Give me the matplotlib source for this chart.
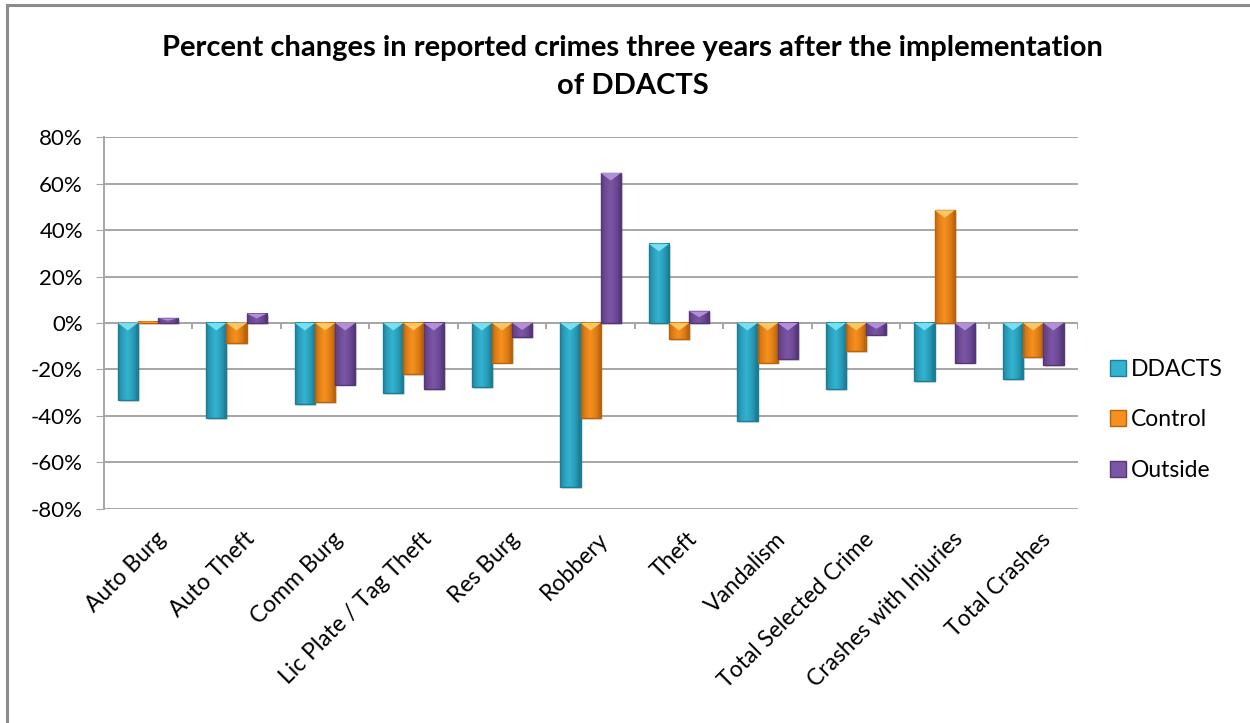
import numpy as np
import matplotlib
matplotlib.use('Agg')
import matplotlib.pyplot as plt
import matplotlib.transforms as mtransforms
from matplotlib.patches import Rectangle, Polygon
from matplotlib.colors import to_rgb
from matplotlib.ticker import FuncFormatter

plt.rcParams['font.family'] = ['Lato', 'DejaVu Sans']

# data (percent change)
categories = ['Auto Burg', 'Auto Theft', 'Comm Burg', 'Lic Plate / Tag Theft', 'Res Burg',
              'Robbery', 'Theft', 'Vandalism', 'Total Selected Crime',
              'Crashes with Injuries', 'Total Crashes']
series_names = ['DDACTS', 'Control', 'Outside']
ddacts = [-33, -41, -35, -30, -27.5, -70.5, 34, -42, -28.5, -25, -24]
control = [0.5, -8.5, -34, -22, -17, -41, -7, -17, -12, 48.5, -14.5]
outside = [2, 4, -26.5, -28.5, -6, 64.5, 5, -15.5, -5, -17, -18]
yticks = [-80, -60, -40, -20, 0, 20, 40, 60, 80]

# (base, dark edge, light cap) per series
colors = [('#33b3d1', '#1c7d96', '#7fe6f7'),
          ('#f7901e', '#b9630c', '#ffcf6a'),
          ('#7c56a6', '#553679', '#bb97e0')]

fig = plt.figure(figsize=(12.5, 7.23), dpi=100)
ax = fig.add_axes([0.083, 0.296, 0.779, 0.5145])

bar_w = 0.228
x = np.arange(len(categories))


def shaded_bar(ax, xc, val, base, dark, light):
    x0 = xc - bar_w / 2
    y0, y1 = min(0, val), max(0, val)
    # horizontal gradient dark -> light -> dark like the excel bevel
    b = np.array(to_rgb(base))
    d = np.array(to_rgb(dark))
    t = np.linspace(0, 1, 40)
    prof = np.clip(1 - np.abs(t - 0.45) * 2.2, 0, 1) ** 0.6
    grad = d[None, :] * (1 - prof[:, None]) + b[None, :] * prof[:, None]
    ax.imshow(grad[None, :, :], extent=[x0, x0 + bar_w, y0, y1], aspect='auto',
              origin='lower', zorder=3, interpolation='bilinear')
    ax.add_patch(Rectangle((x0 + 0.02, y0 - 0.8), bar_w, y1 - y0, facecolor='#000000',
                           alpha=0.12, edgecolor='none', zorder=2.5))
    ax.add_patch(Rectangle((x0, y0), bar_w, y1 - y0, facecolor='none', edgecolor=dark,
                           linewidth=1.0, zorder=4))
    # light triangle cap at the top end
    cap = min(3.2, (y1 - y0) * 0.5)
    if y1 - y0 > 1.0:
        ax.add_patch(Polygon([[x0, y1], [x0 + bar_w, y1], [xc, y1 - cap]], closed=True,
                             facecolor=light, edgecolor='none', alpha=0.9, zorder=4))
    else:
        ax.add_patch(Rectangle((x0, y0), bar_w, y1 - y0, facecolor=base, edgecolor='none',
                               zorder=4))


for k, vals in enumerate([ddacts, control, outside]):
    base, dark, light = colors[k]
    for i, v in enumerate(vals):
        shaded_bar(ax, x[i] + (k - 1) * bar_w, v, base, dark, light)

ax.set_xlim(-0.5, len(categories) - 0.5)
ax.set_ylim(-80, 80)
ax.set_yticks(yticks)
ax.yaxis.set_major_formatter(FuncFormatter(lambda v, p: '%d%%' % v))
ax.grid(axis='y', color='#a6a6a6', linewidth=1.4, zorder=0)
ax.set_axisbelow(True)
for s in ['top', 'right', 'bottom']:
    ax.spines[s].set_visible(False)
ax.spines['left'].set_color('#a6a6a6')
ax.spines['left'].set_linewidth(1.4)
ax.tick_params(axis='y', length=6, color='#a6a6a6', labelsize=16, pad=9)

# category axis at zero with tick marks between groups
ax.axhline(0, color='#a6a6a6', linewidth=1.4, zorder=1)
ax.vlines(x + 0.5, -2.6, 0, color='#a6a6a6', linewidth=1.4, zorder=1)
ax.set_xticks(x)
ax.set_xticklabels(categories, rotation=45, ha='right', va='top',
                   rotation_mode='anchor', fontsize=16.5)
ax.tick_params(axis='x', length=0, pad=14)
shift = mtransforms.ScaledTranslation(7 / 100, 0, fig.dpi_scale_trans)
for lab in ax.get_xticklabels():
    lab.set_transform(lab.get_transform() + shift)

# legend
handles = [Rectangle((0, 0), 1, 1, facecolor=c[0], edgecolor=c[1]) for c in colors]
ax.legend(handles, series_names, loc='center left', bbox_to_anchor=(1.022, 0.24),
          frameon=False, fontsize=16.5, handlelength=0.7, handleheight=0.7,
          handletextpad=0.2, labelspacing=1.28, borderpad=0)

fig.text(0.506, 0.934, 'Percent changes in reported crimes three years after the implementation',
         ha='center', va='center', fontsize=21, fontweight='bold')
fig.text(0.506, 0.881, 'of DDACTS', ha='center', va='center', fontsize=21,
         fontweight='bold')

# outer chart border
fig.add_artist(Rectangle((7 / 1250, -0.05), 1.2, 1.05 - 5 / 723, transform=fig.transFigure,
                         facecolor='none', edgecolor='#8c8c8c', linewidth=2.2))

fig.savefig('out.png', dpi=100)
